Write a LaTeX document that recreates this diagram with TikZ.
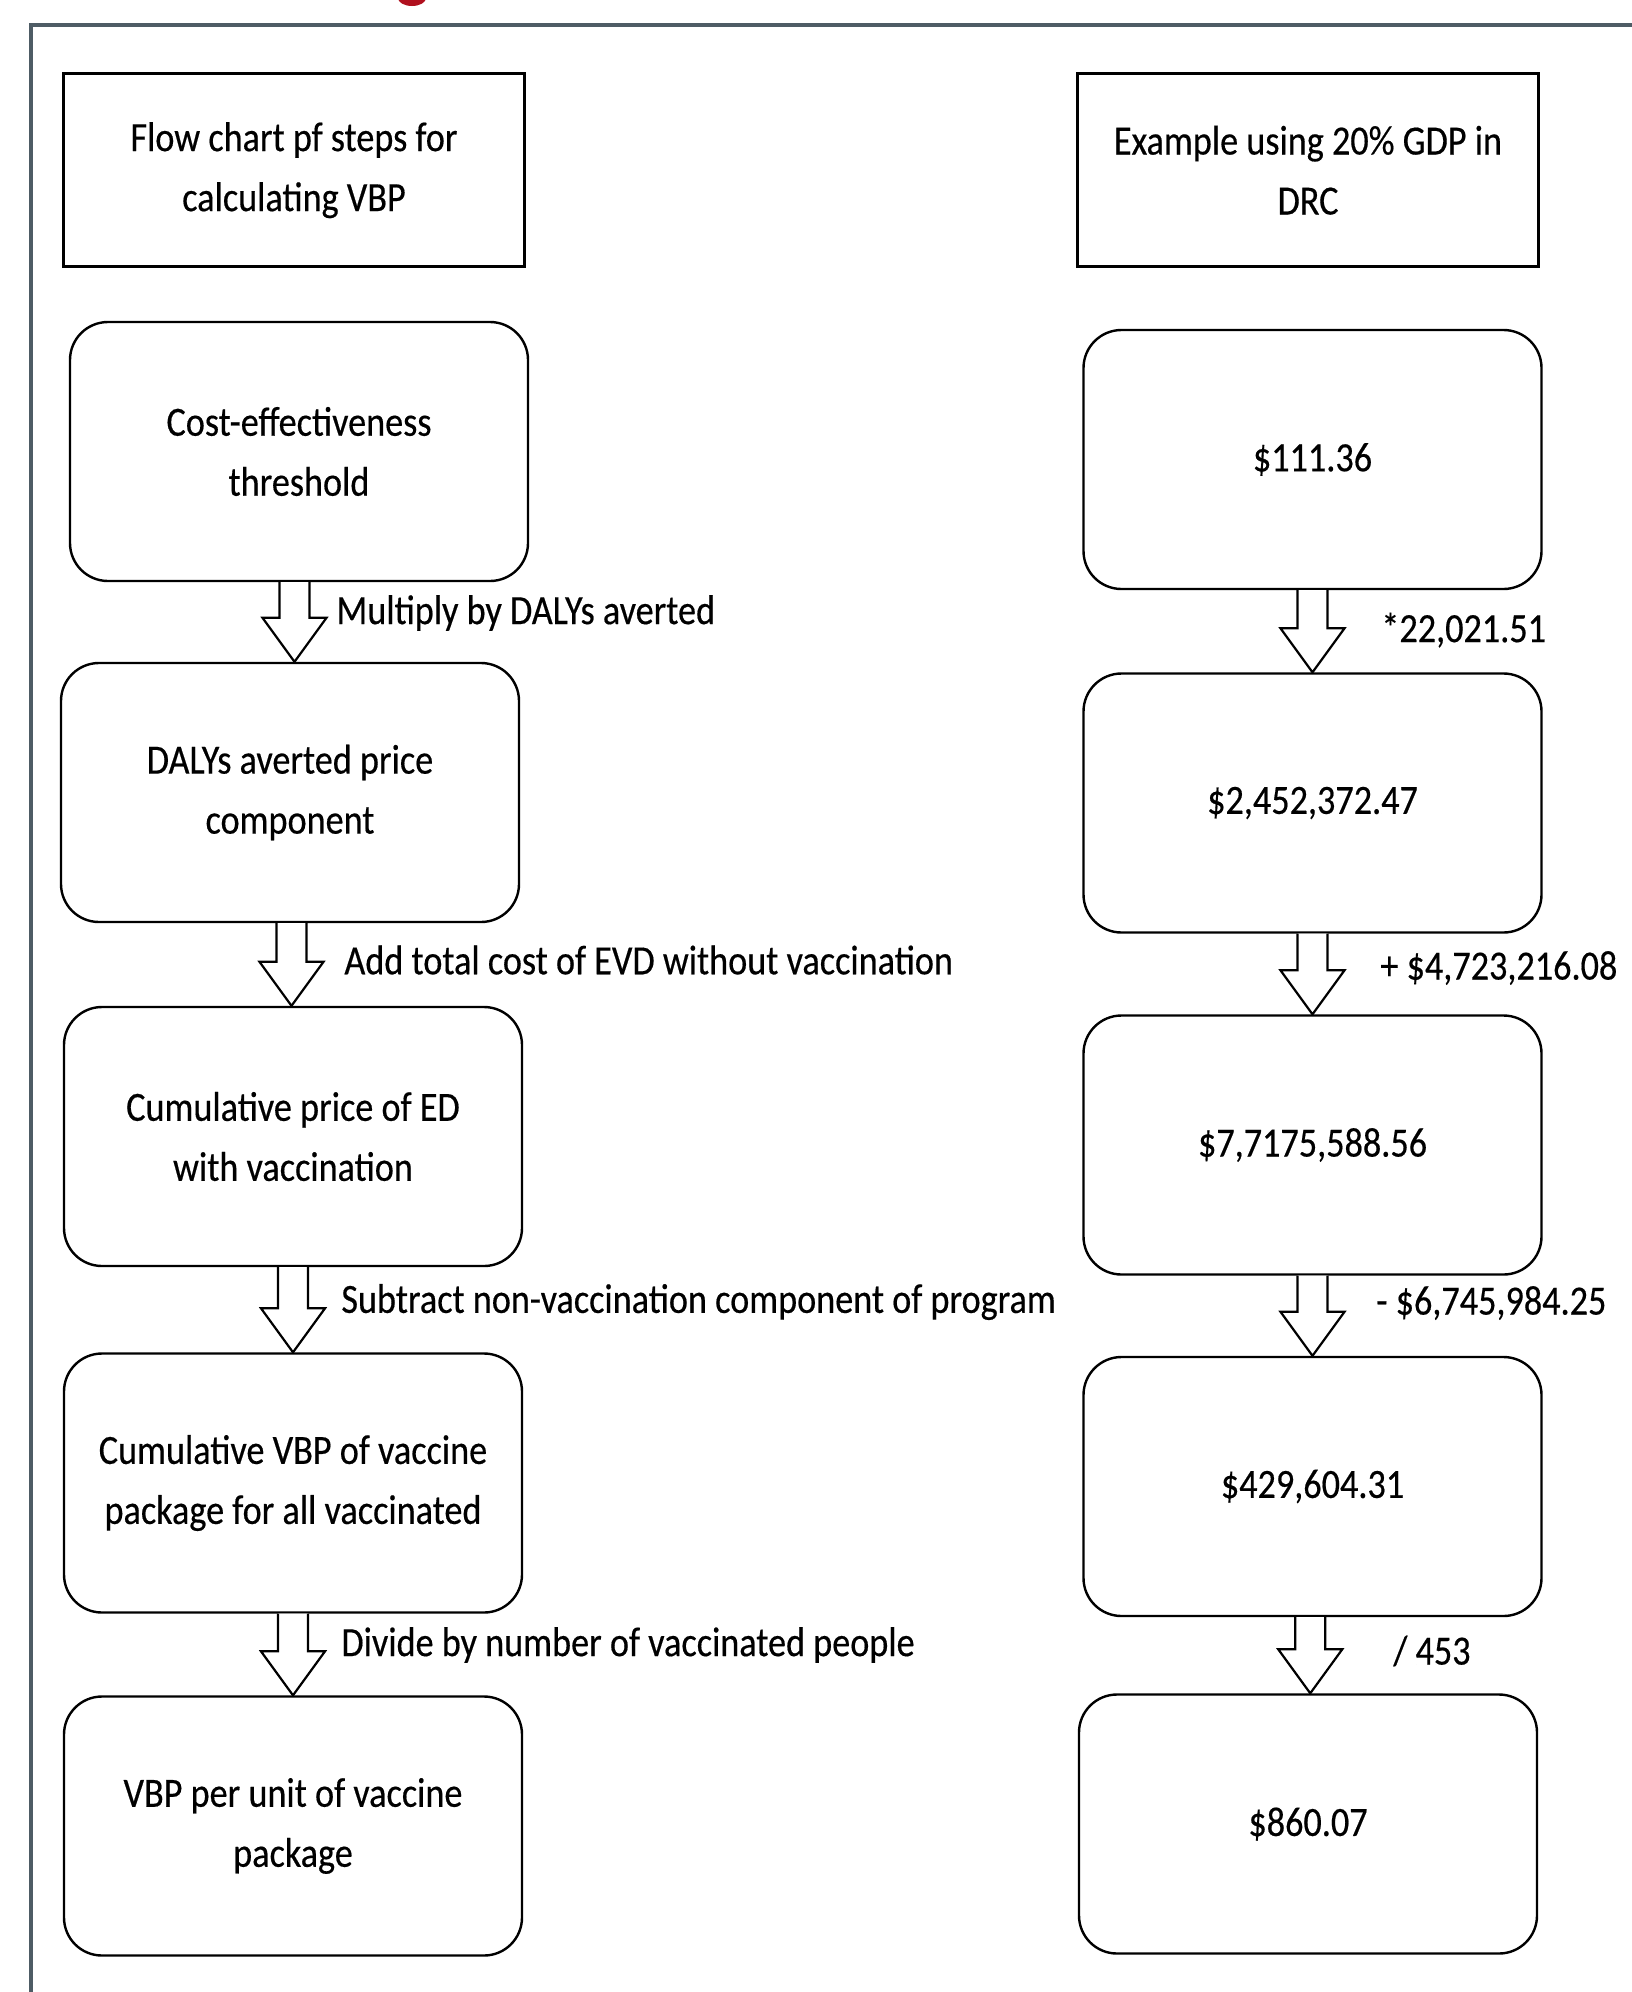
\documentclass[tikz,border=0pt]{standalone}
\usepackage{fontspec}
\setmainfont{Carlito}[FakeStretch=0.87,FakeBold=0.4]
\usetikzlibrary{calc}
\definecolor{framecol}{HTML}{4E5C65}
\definecolor{titlered}{HTML}{B0101E}
\newcommand\blockarrow[2]{%
  \draw[blockarr] let \p1=(#1.south), \p2=(#2.north), \n1={(\x1+\x2)/2} in
    (\n1-7.5pt,\y1) -- (\n1-7.5pt,\y2+22pt) -- (\n1-16pt,\y2+22pt) -- (\n1,\y2)
    -- (\n1+16pt,\y2+22pt) -- (\n1+7.5pt,\y2+22pt) -- (\n1+7.5pt,\y1);}
\begin{document}
\begin{tikzpicture}[x=0.5pt,y=-0.5pt,
  every node/.style={font=\fontsize{20.8}{30}\selectfont, text=black},
  headbox/.style={draw, line width=1.4pt, minimum width=230.5pt, minimum height=96.5pt, align=center, inner sep=0pt},
  stepbox/.style={draw, line width=1.2pt, rounded corners=19pt, minimum width=229pt, minimum height=129.5pt, align=center, inner sep=0pt},
  arrlabel/.style={anchor=west, inner sep=0pt},
  blockarr/.style={draw, line width=1.1pt, fill=white, line join=miter}]
\useasboundingbox (0,0) rectangle (1632,1992);
\fill[white] (0,0) rectangle (1632,1992);
% cut-off title piece and frame
\begin{scope}
  \clip (380,0) rectangle (445,30);
  \fill[titlered] (412,-2) ellipse [x radius=14, y radius=8];
\end{scope}
\draw[framecol, line width=1.75pt] (31,1995) -- (31,25) -- (1635,25);
% headers
\node[headbox] (hl) at (294,170.2) {Flow chart pf steps for\\calculating VBP};
\node[headbox] (hr) at (1308,170.2) {Example using 20\% GDP in\\DRC};
% left column
\node[stepbox] (l1) at (299,451.5) {Cost-effectiveness\\threshold};
\node[stepbox] (l2) at (290,792.5) {DALYs averted price\\component};
\node[stepbox] (l3) at (293,1136.5) {Cumulative price of ED\\with vaccination};
\node[stepbox] (l4) at (293,1483) {Cumulative VBP of vaccine\\package for all vaccinated};
\node[stepbox] (l5) at (293,1826) {VBP per unit of vaccine\\package};
% right column
\node[stepbox] (r1) at (1312.5,459.5) {\$111.36};
\node[stepbox] (r2) at (1312.5,803) {\$2,452,372.47};
\node[stepbox] (r3) at (1312.5,1145) {\$7,7175,588.56};
\node[stepbox] (r4) at (1312.5,1486.5) {\$429,604.31};
\node[stepbox] (r5) at (1308,1824) {\$860.07};
% arrows
\blockarrow{l1}{l2}
\blockarrow{l2}{l3}
\blockarrow{l3}{l4}
\blockarrow{l4}{l5}
\blockarrow{r1}{r2}
\blockarrow{r2}{r3}
\blockarrow{r3}{r4}
\blockarrow{r4}{r5}
% labels
\node[arrlabel] (t1) at (336,613) {Multiply by DALYs averted};
\node[arrlabel] (t2) at (344,960) {Add total cost of EVD without vaccination};
\node[arrlabel] (t3) at (341,1302) {Subtract non-vaccination component of program};
\node[arrlabel] (t4) at (341,1645) {Divide by number of vaccinated people};
\node[arrlabel] (u1) at (1381,630) {*22,021.51};
\node[arrlabel] (u2) at (1380,968) {+ \$4,723,216.08};
\node[arrlabel] (u3) at (1376,1303) {- \$6,745,984.25};
\node[arrlabel] (u4) at (1393,1651) {/ 453};
\end{tikzpicture}
\end{document}
